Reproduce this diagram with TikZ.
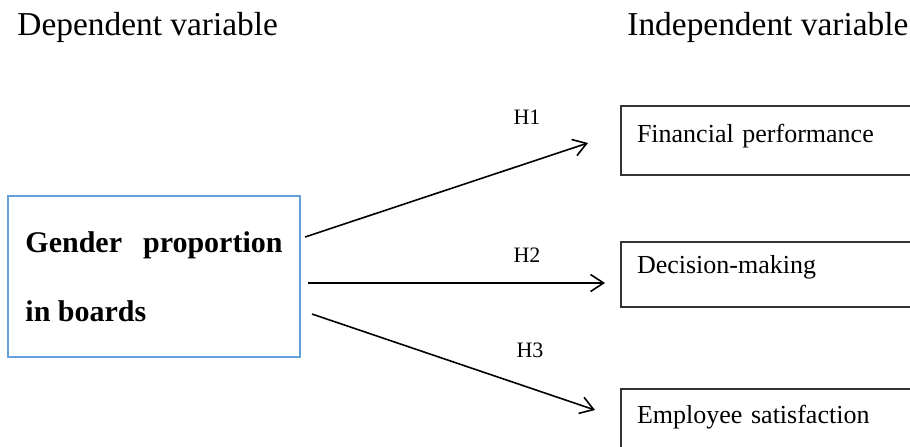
\documentclass[tikz,border=0pt]{standalone}
\usepackage{fontspec}
\setmainfont{Liberation Serif}
\usetikzlibrary{shapes, positioning, arrows.meta}
\definecolor{boxblue}{RGB}{100,160,220}

\begin{document}
\begin{tikzpicture}[
        x=0.5pt, y=-0.5pt,
        heading/.style={anchor=base west, inner sep=0pt, font=\fontsize{16.7}{20}\selectfont},
        hyp/.style={anchor=base, inner sep=0pt, font=\fontsize{11}{13}\selectfont},
        depbox/.style={draw=boxblue, line width=1pt, outer sep=0pt, minimum width=146pt, minimum height=80.5pt,
          align=left, font=\fontsize{15}{34.5}\selectfont\bfseries},
        varbox/.style={draw=black!80, line width=1pt, outer sep=0pt, anchor=north west, inner xsep=8pt, inner ysep=0pt,
          text width=150pt, align=left, font=\fontsize{13}{15.6}\selectfont},
        arr/.style={-{Straight Barb[length=6.5pt,width=8.5pt]}, line width=0.8pt}
      ]
      \useasboundingbox (0,0) rectangle (910,446);
      \clip (0,0) rectangle (910,446);
      \node[heading] (deptitle) at (17,35) {Dependent variable};
      \node[heading] (indtitle) at (627,35) {Independent variable};
      \node[depbox] (gender) at (154,276.5) {Gender\hspace{10.5pt}proportion\\in boards};
      \node[varbox, text height=18pt, text depth=16.5pt] (fin) at (621,106) {Financial performance};
      \node[varbox, text height=15.5pt, text depth=17pt] (dec) at (621,242) {Decision-making};
      \node[varbox, text height=17pt, text depth=30pt] (emp) at (621,389) {Employee satisfaction};
      \draw[arr] ([shift={(5,41)}]gender.north east) -- ([shift={(-33,2.5)}]fin.west);
      \draw[arr] ([shift={(8,6.5)}]gender.east) -- ([shift={(-16,8.5)}]dec.west);
      \draw[arr] ([shift={(12,37.5)}]gender.east) -- ([shift={(-26,21)}]emp.north west);
      \node[hyp] (h1) at (527,124) {H1};
      \node[hyp] (h2) at (527,262) {H2};
      \node[hyp] (h3) at (530,357) {H3};
\end{tikzpicture}
\end{document}
